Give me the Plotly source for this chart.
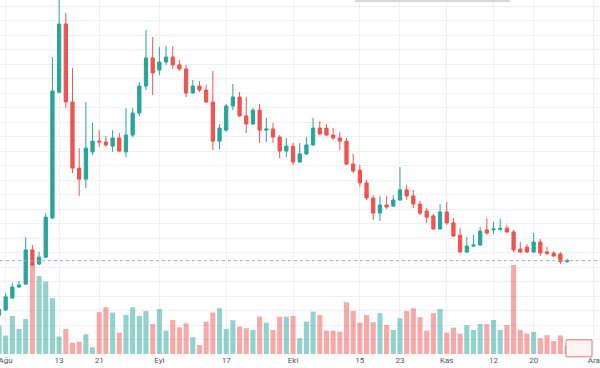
import plotly.graph_objects as go

tick_pos = [1, 9, 15, 24, 34, 44, 54, 60, 67, 74, 80, 89]
tick_text = ["Ağu", "13", "21", "Eyl", "17", "Eki", "15", "23", "Kas", "12", "20", "Ara"]

opens = [1.34, 1.52, 1.93, 2.31, 2.41, 3.59, 3.10, 3.34, 4.69, 9.03,
         11.38, 8.69, 6.41, 6.03, 6.97, 7.34, 7.31, 7.17, 7.45, 6.97,
         7.55, 8.31, 9.24, 10.21, 9.79, 10.07, 10.24, 9.97, 9.83, 9.00,
         9.24, 9.10, 8.69, 7.34, 7.72, 8.55, 8.86, 8.21, 7.93, 8.41,
         7.72, 7.76, 7.48, 7.00, 7.17, 6.62, 6.90, 7.21, 7.79, 7.79,
         7.55, 7.45, 7.34, 6.55, 6.34, 5.90, 5.38, 4.86, 5.14, 5.10,
         5.31, 5.66, 5.45, 5.17, 4.93, 4.76, 4.31, 4.90, 4.52, 4.10,
         3.52, 3.72, 3.76, 4.28, 4.28, 4.30, 4.34, 4.21, 3.62, 3.69,
         3.52, 3.86, 3.52, 3.48, 3.45, 3.19]
highs = [1.66, 2.10, 2.45, 2.52, 4.03, 3.76, 3.52, 4.86, 10.24, 12.31,
         11.76, 9.86, 7.10, 8.69, 7.97, 7.72, 7.52, 7.72, 7.62, 8.48,
         8.48, 9.38, 11.17, 10.93, 10.59, 10.62, 10.62, 10.14, 9.97, 9.45,
         9.41, 9.28, 9.76, 7.93, 8.62, 9.31, 9.03, 8.86, 8.48, 8.62,
         8.14, 7.97, 7.55, 7.45, 7.28, 7.28, 7.48, 8.14, 8.03, 7.93,
         7.79, 7.66, 7.45, 6.90, 6.52, 6.00, 5.48, 5.45, 5.45, 5.48,
         6.45, 5.83, 5.66, 5.28, 5.03, 4.83, 5.17, 5.24, 4.69, 4.34,
         4.03, 4.10, 4.38, 4.69, 4.55, 4.66, 4.45, 4.28, 3.86, 3.79,
         4.17, 3.97, 3.69, 3.55, 3.52, 3.28]
lows = [1.28, 1.48, 1.90, 2.28, 2.38, 3.03, 3.07, 3.31, 4.66, 9.00,
        8.48, 6.24, 5.45, 5.72, 6.86, 7.14, 7.14, 6.97, 6.97, 6.79,
        7.48, 8.21, 9.10, 8.93, 9.62, 9.97, 9.83, 9.76, 8.86, 8.97,
        9.03, 8.66, 7.03, 7.07, 7.66, 8.41, 8.17, 7.62, 7.90, 7.28,
        7.31, 7.28, 6.76, 6.79, 6.52, 6.59, 6.86, 7.17, 7.55, 7.52,
        7.38, 7.03, 6.52, 6.24, 5.76, 5.31, 4.62, 4.59, 5.00, 5.07,
        5.28, 5.31, 5.03, 4.79, 4.52, 4.28, 4.28, 4.45, 4.03, 3.48,
        3.48, 3.69, 3.72, 4.10, 4.14, 4.24, 4.17, 3.52, 3.48, 3.48,
        3.48, 3.38, 3.41, 3.34, 3.10, 3.14]
closes = [1.55, 1.97, 2.31, 2.38, 3.59, 3.07, 3.34, 4.72, 9.07, 11.38,
          8.69, 6.41, 6.03, 7.10, 7.34, 7.31, 7.21, 7.45, 7.00, 7.55,
          8.31, 9.24, 10.21, 9.69, 10.07, 10.24, 9.97, 9.83, 9.00, 9.24,
          9.10, 8.69, 7.34, 7.79, 8.55, 8.86, 8.21, 7.93, 8.41, 7.72,
          7.76, 7.48, 7.00, 7.17, 6.62, 6.90, 7.21, 7.79, 7.59, 7.55,
          7.45, 7.34, 6.55, 6.31, 5.90, 5.38, 4.86, 5.14, 5.07, 5.31,
          5.66, 5.45, 5.17, 4.86, 4.72, 4.31, 4.90, 4.52, 4.07, 3.52,
          3.72, 3.76, 4.24, 4.17, 4.31, 4.33, 4.21, 3.59, 3.52, 3.52,
          3.86, 3.48, 3.47, 3.38, 3.19, 3.22]
volumes = [1.42, 0.92, 1.90, 1.25, 1.75, 4.50, 3.90, 3.62, 2.79, 0.87,
           1.25, 0.57, 0.62, 0.99, 0.34, 2.09, 2.34, 2.07, 1.07, 1.95,
           2.34, 1.90, 2.15, 1.50, 2.25, 1.17, 1.70, 1.34, 1.54, 0.84,
           0.45, 1.62, 2.07, 2.29, 1.25, 1.69, 1.37, 1.29, 1.20, 1.87,
           1.57, 1.20, 1.87, 1.87, 1.90, 0.79, 1.62, 2.12, 1.95, 1.17,
           1.17, 1.12, 2.59, 2.15, 1.57, 1.95, 1.59, 2.04, 1.45, 1.20,
           1.79, 2.15, 2.29, 1.84, 1.17, 2.04, 2.25, 1.07, 1.32, 1.02,
           1.44, 1.20, 1.50, 1.49, 1.70, 1.20, 1.45, 4.45, 1.20, 1.02,
           1.10, 0.79, 0.94, 0.65, 0.93, 0.40]

UP = "#26a69a"
DOWN = "#ef5350"
UP_VOL = "rgba(38,166,154,0.5)"
DOWN_VOL = "rgba(239,83,80,0.5)"
GRID = "#eceff3"

idx = list(range(len(opens)))
vol_colors = [UP_VOL if c >= o else DOWN_VOL for o, c in zip(opens, closes)]

fig = go.Figure()
fig.add_trace(go.Bar(
    x=idx, y=volumes, width=0.76, marker=dict(color=vol_colors, line=dict(width=0)),
    yaxis="y", hoverinfo="skip", showlegend=False))
fig.add_trace(go.Candlestick(
    x=idx, open=opens, high=highs, low=lows, close=closes, yaxis="y2",
    increasing=dict(line=dict(color=UP, width=1), fillcolor=UP),
    decreasing=dict(line=dict(color=DOWN, width=1), fillcolor=DOWN),
    whiskerwidth=0, hoverinfo="skip", showlegend=False))

fig.update_layout(
    width=600, height=368,
    margin=dict(l=0, r=0, t=0, b=14),
    paper_bgcolor="white", plot_bgcolor="white",
    showlegend=False,
    font=dict(family="Roboto, Liberation Sans, sans-serif", size=8, color="#50535e"),
    xaxis=dict(range=[0.154, 89.93], tickmode="array", tickvals=tick_pos, ticktext=tick_text,
               showgrid=True, gridcolor=GRID, gridwidth=1, zeroline=False, showline=False,
               ticks="", tickfont=dict(size=8, color="#50535e"), rangeslider=dict(visible=False),
               ticklabeloverflow="allow", fixedrange=True),
    yaxis=dict(range=[0, 17.7], showgrid=False, showticklabels=False, zeroline=False,
               showline=False, ticks=""),
    yaxis2=dict(range=[0, 12.207], overlaying="y", side="right", tick0=0, dtick=0.5,
                showgrid=True, gridcolor=GRID, gridwidth=1, showticklabels=False,
                zeroline=False, showline=False, ticks=""),
    shapes=[
        dict(type="line", xref="paper", x0=0, x1=1, yref="y2", y0=closes[-1], y1=closes[-1],
             line=dict(color="#9fb0c4", width=1, dash="dot")),
        dict(type="rect", xref="paper", x0=355 / 600, x1=510 / 600, yref="paper", y0=0.994, y1=1.0,
             fillcolor="#d6d9de", line=dict(width=0)),
        dict(type="rect", xref="paper", x0=566 / 600, x1=592 / 600, yref="paper", y0=-0.008, y1=0.04,
             fillcolor="#fbf4f3", line=dict(color="#e07a72", width=1)),
    ],
)

fig.write_html("out.html", config={"displayModeBar": False},
               post_script="document.body.style.margin='0';document.body.style.overflow='hidden';")
